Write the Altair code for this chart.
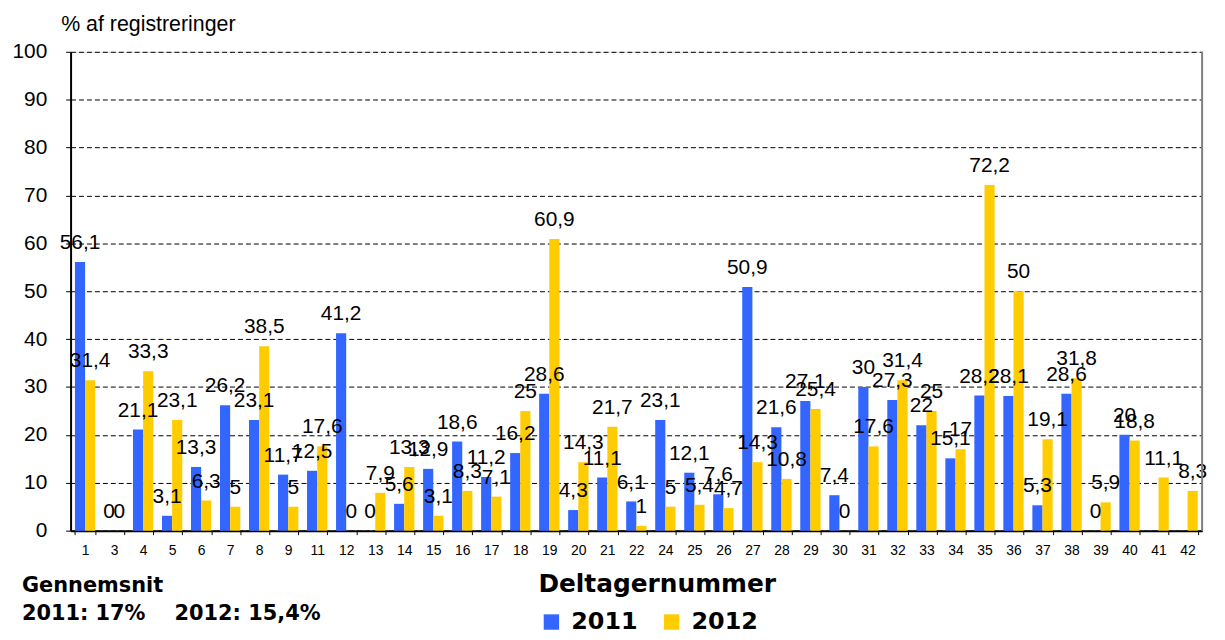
import altair as alt
import pandas as pd

participants = ["1", "3", "4", "5", "6", "7", "8", "9", "11", "12", "13", "14", "15",
                "16", "17", "18", "19", "20", "21", "22", "24", "25", "26", "27", "28",
                "29", "30", "31", "32", "33", "34", "35", "36", "37", "38", "39", "40",
                "41", "42"]
values_2011 = [56.1, 0, 21.1, 3.1, 13.3, 26.2, 23.1, 11.7, 12.5, 41.2, 0, 5.6, 12.9,
               18.6, 11.2, 16.2, 28.6, 4.3, 11.1, 6.1, 23.1, 12.1, 7.6, 50.9, 21.6,
               27.1, 7.4, 30, 27.3, 22, 15.1, 28.2, 28.1, 5.3, 28.6, 0, 20,
               None, None]
values_2012 = [31.4, 0, 33.3, 23.1, 6.3, 5, 38.5, 5, 17.6, 0, 7.9, 13.3, 3.1,
               8.3, 7.1, 25, 60.9, 14.3, 21.7, 1, 5, 5.4, 4.7, 14.3, 10.8,
               25.4, 0, 17.6, 31.4, 25, 17, 72.2, 50, 19.1, 31.8, 5.9, 18.8,
               11.1, 8.3]
years = ["2011", "2012"]
colors = ["#3366FF", "#FFCC00"]
y_ticks = [0, 10, 20, 30, 40, 50, 60, 70, 80, 90, 100]
note_lines = ["Gennemsnit", "2011: 17%\u00a0\u00a0\u00a0 2012: 15,4%"]

rows = []
for p, a, b in zip(participants, values_2011, values_2012):
    rows.append({"Deltager": p, "Aar": "2011", "Vaerdi": a})
    rows.append({"Deltager": p, "Aar": "2012", "Vaerdi": b})
df = pd.DataFrame(rows).dropna()
df["Label"] = df["Vaerdi"].map(lambda v: f"{v:g}".replace(".", ","))

W, H = 1139, 482
FONT = "Liberation Sans"
BOLD = "DejaVu Sans"

x_enc = alt.X(
    "Deltager:N", sort=participants,
    scale=alt.Scale(paddingInner=0.3, paddingOuter=0.15),
    axis=alt.Axis(
        title="Deltagernummer", labelAngle=0, tickBand="extent",
        labelFont=FONT, labelFontSize=14, labelColor="black", labelPadding=9,
        domainColor="black", domainWidth=2, tickColor="black", tickSize=4,
        titleFont=BOLD, titleFontSize=25, titleFontWeight="bold", titleColor="black",
        titleX=590, titleY=53, titleBaseline="middle", titleAlign="center",
    ),
)
xoff_enc = alt.XOffset("Aar:N", sort=years, scale=alt.Scale(paddingInner=0, paddingOuter=0))
y_enc = alt.Y(
    "Vaerdi:Q",
    scale=alt.Scale(domain=[0, 100], nice=False),
    axis=alt.Axis(
        values=y_ticks, grid=True, gridColor="black", gridDash=[5, 3], gridWidth=1,
        domainColor="black", domainWidth=2, tickColor="black", tickSize=5,
        labelFont=FONT, labelFontSize=21, labelColor="black", labelPadding=19,
        title="% af registreringer", titleAngle=0, titleAlign="left",
        titleBaseline="middle", titleX=-10, titleY=-27, titleFont=FONT,
        titleFontSize=21.5, titleFontWeight="normal", titleColor="black",
    ),
)

base = alt.Chart(df)
bars = base.mark_bar().encode(
    x=x_enc, xOffset=xoff_enc, y=y_enc,
    color=alt.Color(
        "Aar:N", sort=years,
        scale=alt.Scale(domain=years, range=colors),
        legend=alt.Legend(
            title=None, orient="none", direction="horizontal",
            legendX=472, legendY=562, symbolType="square", symbolSize=240,
            symbolStrokeWidth=0, symbolOpacity=1, labelFont=BOLD, labelFontSize=24,
            labelFontWeight="bold", labelColor="black", labelOffset=8,
            columnPadding=22, padding=0,
        ),
    ),
)
labels = base.mark_text(
    baseline="middle", dy=-19, fontSize=21, font=FONT, color="black"
).encode(x=x_enc, xOffset=xoff_enc, y=y_enc, text="Label:N")

border = alt.Chart(pd.DataFrame({"k": [0]})).mark_rule(
    color="#808080", strokeWidth=2
).encode(x=alt.value(W), y=alt.value(0), y2=alt.value(H))

note1 = alt.Chart(pd.DataFrame({"t": [note_lines[0]]})).mark_text(
    align="left", baseline="middle", font=BOLD, fontSize=21, fontWeight="bold", color="black"
).encode(text="t:N", x=alt.value(-49), y=alt.value(538))
note2 = alt.Chart(pd.DataFrame({"t": [note_lines[1]]})).mark_text(
    align="left", baseline="middle", font=BOLD, fontSize=21, fontWeight="bold", color="black"
).encode(text="t:N", x=alt.value(-49), y=alt.value(566))

chart = alt.layer(bars, labels, border, note1, note2).properties(
    width=W, height=H,
    autosize=alt.AutoSizeParams(type="none"),
    padding={"left": 63, "top": 42, "right": 15, "bottom": 110},
).configure_view(stroke=None).configure(background="white")

chart.save("out.html", embed_options={"renderer": "svg", "actions": False})
